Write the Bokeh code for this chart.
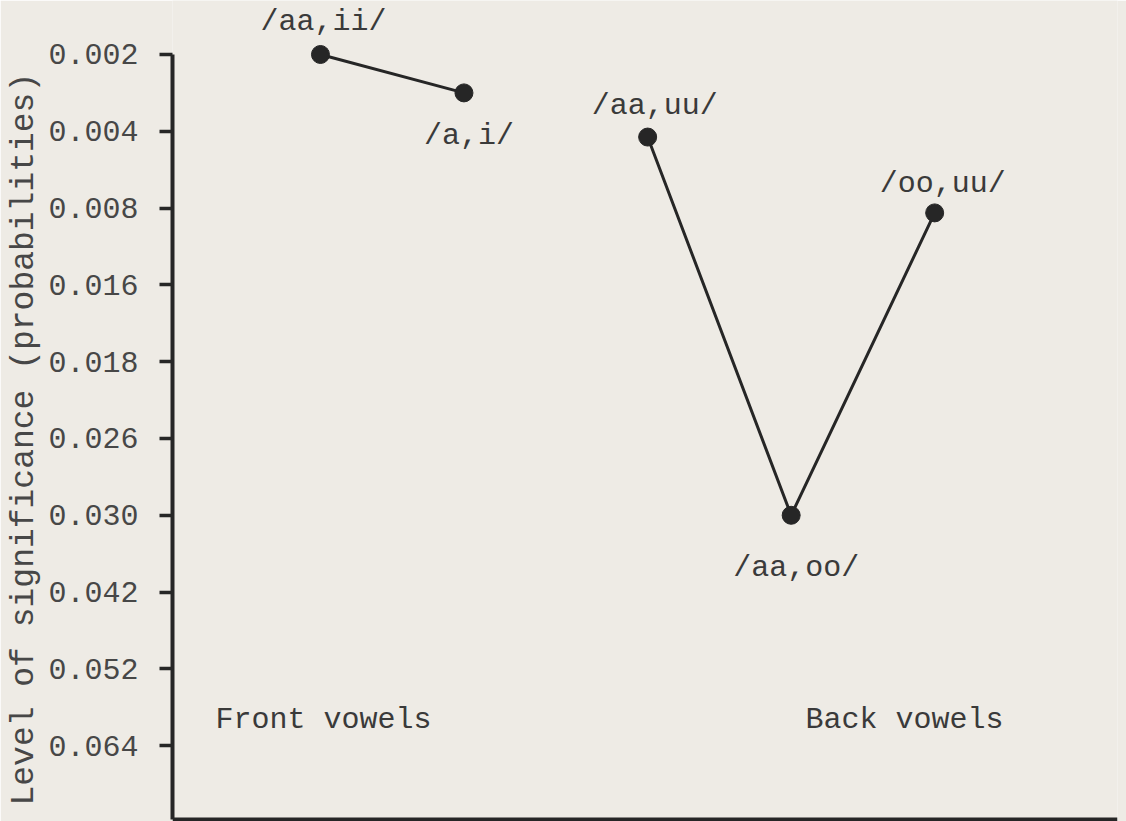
import numpy as np
from bokeh.plotting import figure
from bokeh.models import Range1d, FixedTicker, Span, Title, ColumnDataSource
from bokeh.core.properties import value
from bokeh.embed import file_html
from bokeh.resources import INLINE

# ---- data -------------------------------------------------------------
tick_labels = ["0.002", "0.004", "0.008", "0.016", "0.018",
               "0.026", "0.030", "0.042", "0.052", "0.064"]
tick_values = [float(t) for t in tick_labels]

pairs = ["/aa,ii/", "/a,i/", "/aa,uu/", "/aa,oo/", "/oo,uu/"]
groups = ["Front vowels", "Front vowels", "Back vowels", "Back vowels", "Back vowels"]
probabilities = [0.002, 0.003, 0.0043, 0.030, 0.0085]
x_order = [1, 2, 3.28, 4.28, 5.28]

group_names = ["Front vowels", "Back vowels"]

# ---- style ------------------------------------------------------------
FONT = "Liberation Mono"
BG = "#eeebe5"
INK = "#262626"
TXT = "#474747"

# label offsets (screen pixels) relative to each point
label_dx = [3, 5, 7, 5, 8]
label_dy = [-32, 43, -31, 53, -29]

# map probabilities onto the evenly spaced significance ladder
levels = np.interp(probabilities, tick_values, np.arange(len(tick_values)))

p = figure(width=1126, height=821, output_backend="svg", toolbar_location=None,
           x_range=Range1d(-0.031, 6.554), y_range=Range1d(9.987, -0.703),
           min_border_left=172, min_border_right=9, min_border_top=0,
           min_border_bottom=0,
           background_fill_color=BG, border_fill_color=BG,
           outline_line_color=None)
p.grid.visible = False
p.xaxis.visible = False

# y axis
ya = p.yaxis[0]
ya.ticker = FixedTicker(ticks=list(range(len(tick_labels))))
ya.major_label_overrides = {i: t for i, t in enumerate(tick_labels)}
ya.major_tick_out = 13
ya.major_tick_in = 0
ya.minor_tick_out = 0
ya.minor_tick_in = 0
ya.major_tick_line_width = 3.5
ya.major_tick_line_color = INK
ya.axis_line_width = 4
ya.axis_line_color = INK
ya.major_label_standoff = 21
ya.major_label_text_font = FONT
ya.major_label_text_font_size = "30px"
ya.major_label_text_color = TXT
ya.bounds = (0, 9.96)

# bottom baseline
p.add_layout(Span(location=9.96, dimension="width", line_color=INK, line_width=4))

# lines per group
for g in group_names:
    idx = [i for i, gg in enumerate(groups) if gg == g]
    p.line([x_order[i] for i in idx], [levels[i] for i in idx],
           line_width=3, line_color=INK)

p.scatter(x_order, levels, size=18, fill_color=INK, line_color=INK)

src = ColumnDataSource(dict(x=x_order, y=levels, text=pairs,
                            dx=label_dx, dy=label_dy))
p.text(x="x", y="y", text="text", x_offset="dx", y_offset="dy", source=src,
       text_align="center", text_baseline="middle",
       text_font=value(FONT), text_font_size="30px", text_color="#3a3a3a")

# group labels
p.text(x=[0.268, 4.38], y=[8.67, 8.67], text=group_names,
       text_align="left", text_baseline="middle",
       text_font=value(FONT), text_font_size="30px", text_color="#3a3a3a")

# axis title
p.add_layout(Title(text="Level of significance (probabilities)", align="left",
                   offset=16, standoff=5, text_font=FONT,
                   text_font_size="33px", text_font_style="normal",
                   text_color=TXT), "left")

open("out.html", "w").write(file_html(p, INLINE))
